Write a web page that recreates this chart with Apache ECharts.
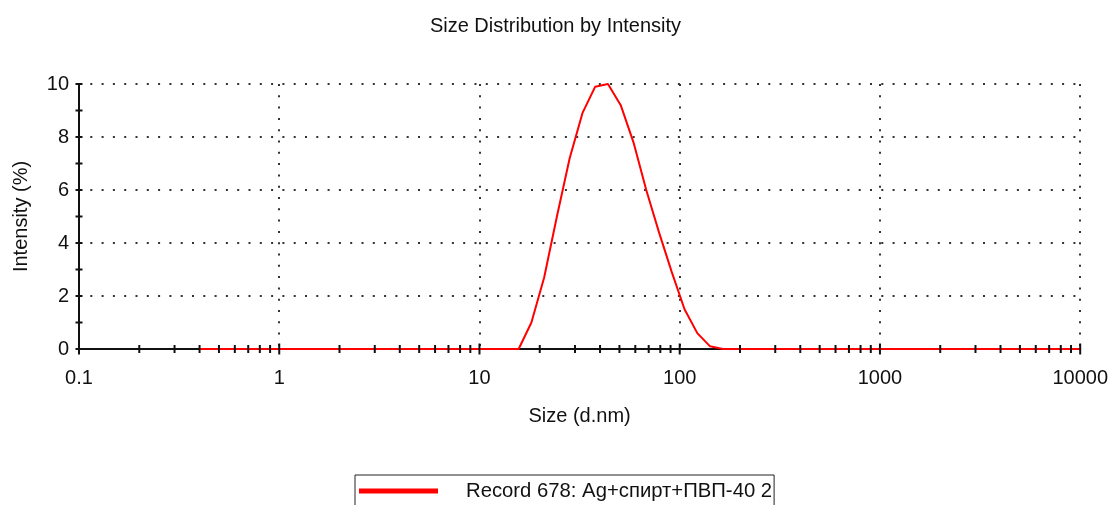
<!DOCTYPE html>
<html><head><meta charset="utf-8">
<script src="https://cdn.jsdelivr.net/npm/echarts@6/dist/echarts.min.js"></script>
<style>html,body{margin:0;padding:0;background:#fff}#c{width:1111px;height:505px}</style>
</head><body><div id="c"></div>
<script>
const titleText = 'Size Distribution by Intensity';
const xAxisTitle = 'Size (d.nm)';
const yAxisTitle = 'Intensity (%)';
const seriesName = 'Record 678: Ag+спирт+ПВП-40 2';

// size classes (d.nm)
const sizes = [0.4,0.4632,0.5365,0.6213,0.7195,0.8332,0.9649,1.117,1.294,1.499,
  1.736,2.01,2.328,2.696,3.122,3.615,4.187,4.849,5.615,6.503,
  7.531,8.721,10.1,11.7,13.54,15.69,18.17,21.04,24.36,28.21,
  32.67,37.84,43.82,50.75,58.77,68.06,78.82,91.28,105.7,122.4,
  141.8,164.2,190.1,220.2,255.0,295.3,342.0,396.1,458.7,531.2,
  615.1,712.4,825.0,955.4,1106,1281,1484,1718,1990,2305,
  2669,3091,3580,4145,4801,5560,6439,7456,8635,10000];
// intensity (%)
const intensity = [0,0,0,0,0,0,0,0,0,0,
  0,0,0,0,0,0,0,0,0,0,
  0,0,0,0,0,0,1.0,2.7,5.0,7.2,
  8.9,9.9,10.0,9.2,7.8,6.0,4.4,2.9,1.5,0.6,
  0.1,0,0,0,0,0,0,0,0,0,
  0,0,0,0,0,0,0,0,0,0,
  0,0,0,0,0,0,0,0,0,0];

const xTickValues = [0.1,1,10,100,1000,10000];
const xTickLabels = ['0.1','1','10','100','1000','10000'];
const yTickValues = [0,2,4,6,8,10];
const yTickLabels = ['0','2','4','6','8','10'];
const xMinorMultipliers = [2,3,4,5,6,7,8,9];

const FONT = "'Liberation Sans', Arial, sans-serif";

// tick marks (log axis majors + minors, y majors + minors)
const xTickMarks = [];
xTickValues.forEach((d, i) => {
  xTickMarks.push([d, 0]);
  if (i < xTickValues.length - 1) xMinorMultipliers.forEach(k => xTickMarks.push([k * d, 0]));
});
const yTickMarks = [];
for (let v = yTickValues[0]; v <= yTickValues[yTickValues.length - 1]; v += 1) yTickMarks.push([xTickValues[0], v]);

const chart = echarts.init(document.getElementById('c'), null, {renderer: 'canvas'});
chart.setOption({
  animation: false,
  backgroundColor: '#fff',
  title: {
    text: titleText, left: 'center', top: 14, padding: 0,
    textStyle: {fontFamily: FONT, fontSize: 20, fontWeight: 'normal', color: '#111', lineHeight: 24}
  },
  legend: {
    data: [{name: seriesName, icon: 'rect'}],
    left: 355, top: 475,
    itemWidth: 79, itemHeight: 5,
    padding: [6, 2, 30, 4],
    borderColor: '#222', borderWidth: 1,
    selectedMode: false,
    textStyle: {fontFamily: FONT, fontSize: 20.3, color: '#111', padding: [0, 0, 0, 23], lineHeight: 20}
  },
  grid: {left: 79, right: 29, top: 84, bottom: 156, containLabel: false},
  xAxis: {
    type: 'log', logBase: 10, min: xTickValues[0], max: xTickValues[xTickValues.length - 1],
    name: xAxisTitle, nameLocation: 'middle', nameGap: 57,
    nameTextStyle: {fontFamily: FONT, fontSize: 20, color: '#111'},
    axisLine: {show: true, onZero: false, lineStyle: {color: '#111', width: 2}},
    axisTick: {show: false},
    axisLabel: {
      fontFamily: FONT, fontSize: 20, color: '#111', margin: 19,
      formatter: v => {
        const i = xTickValues.findIndex(t => Math.abs(Math.log10(t) - Math.log10(v)) < 1e-6);
        return i >= 0 ? xTickLabels[i] : '';
      }
    },
    splitLine: {show: true, lineStyle: {color: '#333', width: 2, type: [2, 9.3]}}
  },
  yAxis: {
    type: 'value', min: yTickValues[0], max: yTickValues[yTickValues.length - 1], interval: 2,
    name: yAxisTitle, nameLocation: 'middle', nameGap: 48,
    nameTextStyle: {fontFamily: FONT, fontSize: 20, color: '#111'},
    axisLine: {show: true, lineStyle: {color: '#111', width: 2}},
    axisTick: {show: false},
    axisLabel: {
      fontFamily: FONT, fontSize: 20, color: '#111', margin: 10,
      formatter: v => { const i = yTickValues.indexOf(v); return i >= 0 ? yTickLabels[i] : ''; }
    },
    splitLine: {show: true, lineStyle: {color: '#333', width: 2, type: [2, 9.3]}}
  },
  series: [
    {
      name: seriesName, type: 'line', z: 5,
      data: sizes.map((s, i) => [s, intensity[i]]),
      showSymbol: false, symbol: 'none', smooth: false,
      lineStyle: {color: '#ff0000', width: 2},
      itemStyle: {color: '#ff0000'}
    },
    {
      name: 'xticks', type: 'custom', z: 10, clip: false, silent: true,
      data: xTickMarks,
      encode: {x: 0, y: 1},
      renderItem: (params, api) => {
        const v = api.value(0);
        const p = api.coord([v, api.value(1)]);
        const lg = Math.log10(v);
        const major = Math.abs(lg - Math.round(lg)) < 1e-6;
        const h = major ? 5.5 : 4;
        return {type: 'line', shape: {x1: p[0], y1: p[1] - h, x2: p[0], y2: p[1] + h},
          style: {stroke: '#111', lineWidth: 2}};
      }
    },
    {
      name: 'yticks', type: 'custom', z: 10, clip: false, silent: true,
      data: yTickMarks,
      encode: {x: 0, y: 1},
      renderItem: (params, api) => {
        const p = api.coord([api.value(0), api.value(1)]);
        return {type: 'line', shape: {x1: p[0] - 3.5, y1: p[1], x2: p[0] + 3.5, y2: p[1]},
          style: {stroke: '#111', lineWidth: 2}};
      }
    }
  ]
});
</script></body></html>
